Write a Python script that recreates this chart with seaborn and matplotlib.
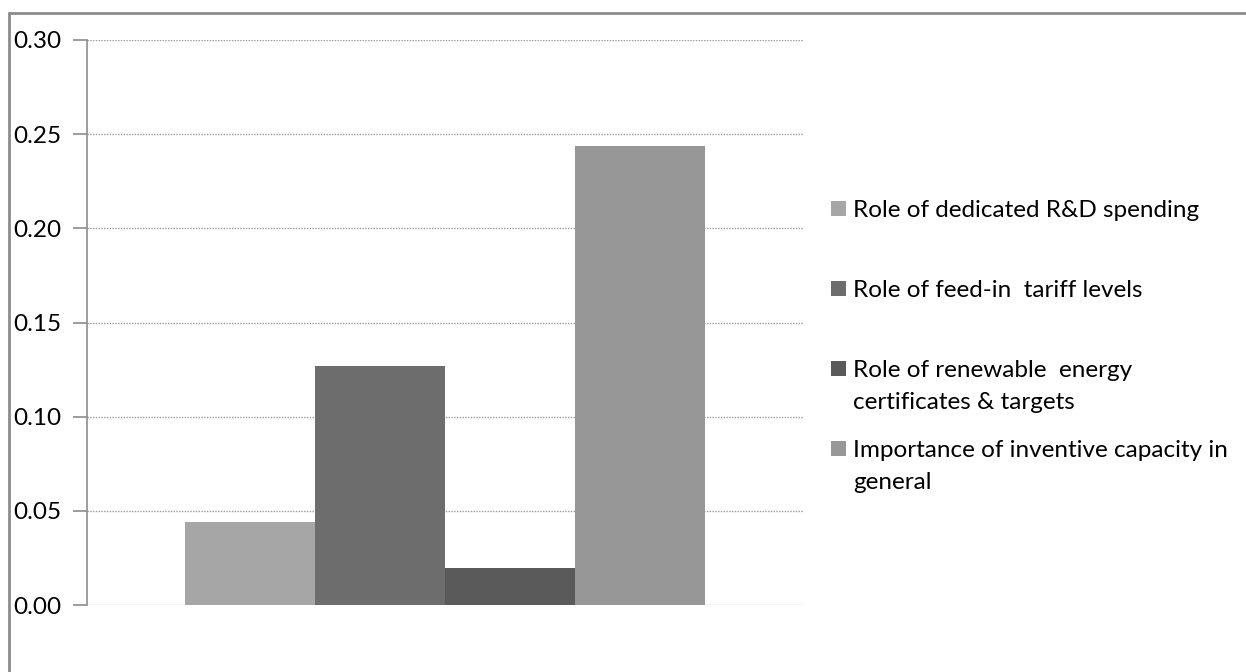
import matplotlib
matplotlib.use("Agg")
import matplotlib.pyplot as plt
import seaborn as sns
import pandas as pd
from matplotlib.patches import Rectangle
from matplotlib.lines import Line2D
from matplotlib.ticker import FormatStrFormatter

# data
categories = [
    "Role of dedicated R&D spending",
    "Role of feed-in  tariff levels",
    "Role of renewable  energy\ncertificates & targets",
    "Importance of inventive capacity in\ngeneral",
]
values = [0.044, 0.127, 0.0195, 0.2435]
colors = ["#a6a6a6", "#6d6d6d", "#5a5a5a", "#979797"]
yticks = [0.00, 0.05, 0.10, 0.15, 0.20, 0.25, 0.30]

sns.set_style("white")
plt.rcParams["font.family"] = ["Lato", "DejaVu Sans"]

df = pd.DataFrame({"cat": categories, "val": values})

fig = plt.figure(figsize=(12.46, 6.72), dpi=100)
ax = fig.add_axes([87 / 1246, 1 - 605 / 672, (803 - 87) / 1246, (605 - 40) / 672])

sns.barplot(data=df, x="cat", y="val", hue="cat", palette=colors,
            width=1.0, legend=False, ax=ax, linewidth=0, saturation=1)

ax.set_xlim(-1.249, 4.249)
ax.set_ylim(0, 0.30)
ax.set_yticks(yticks)
ax.yaxis.set_major_formatter(FormatStrFormatter("%.2f"))
ax.set_xticks([])
ax.set_xlabel("")
ax.set_ylabel("")
ax.grid(axis="y", color="#9a9a9a", linestyle=(0, (1, 1)), linewidth=1)
ax.set_axisbelow(True)
for s in ["top", "right", "bottom"]:
    ax.spines[s].set_visible(False)
ax.spines["left"].set_color("#8c8c8c")
ax.spines["left"].set_linewidth(1.2)
ax.tick_params(axis="y", left=True, direction="out", length=10, width=1.2,
               color="#8c8c8c", pad=0, labelsize=17.5, labelcolor="#000000")
for lab in ax.get_yticklabels():
    lab.set_horizontalalignment("left")
    lab.set_transform(ax.get_yaxis_transform())
    lab.set_position((-(87 - 13) / 716, lab.get_position()[1]))

# legend drawn by hand to keep the square on the first line
W, H = 1246, 672
leg_y = [209, 289, 369, 449]
for col, lab, y in zip(colors, categories, leg_y):
    fig.patches.append(Rectangle((831 / W, 1 - (y + 7) / H), 15 / W, 15 / H,
                                 transform=fig.transFigure, facecolor=col,
                                 edgecolor="none"))
    fig.text(853 / W, 1 - (y - 9) / H, lab, fontsize=17.5, va="top", ha="left",
             color="#000000", linespacing=1.65)

# outer frame (left and top only, as in the reference)
fig.lines.append(Line2D([9 / W, 9 / W], [0, 1 - 13 / H], transform=fig.transFigure,
                        color="#8c8c8c", linewidth=2))
fig.lines.append(Line2D([9 / W, 1], [1 - 13 / H, 1 - 13 / H], transform=fig.transFigure,
                        color="#8c8c8c", linewidth=2))

fig.savefig("out.png", dpi=100, facecolor="white")
